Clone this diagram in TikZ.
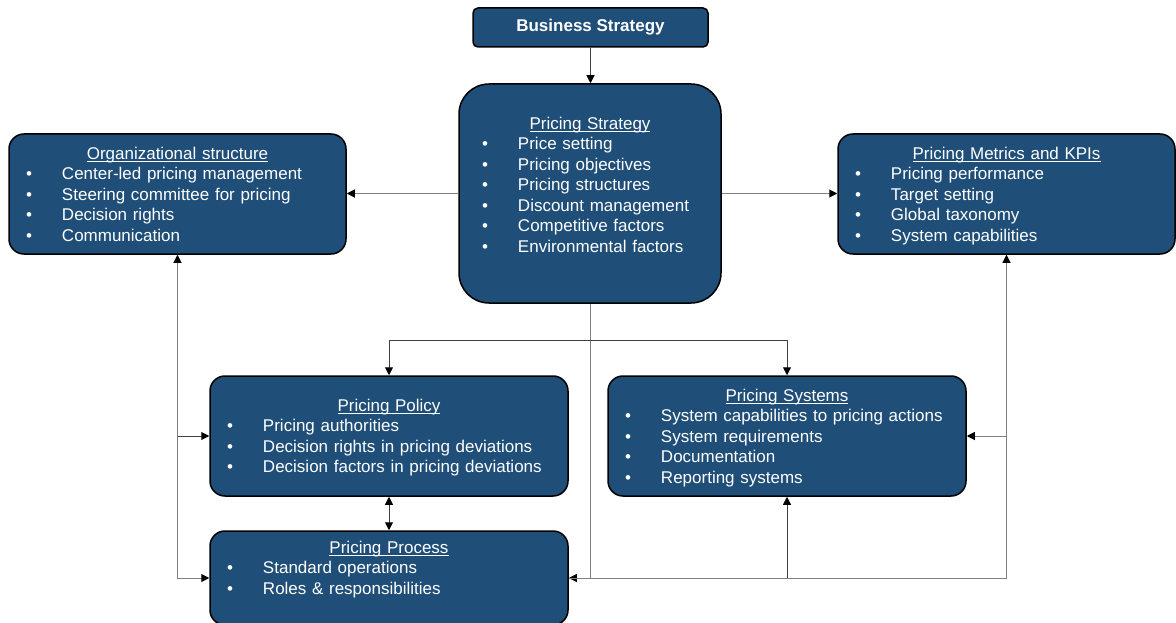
\documentclass[tikz,border=0pt]{standalone}
\usepackage{fontspec}
\setmainfont{Liberation Sans}
\usepackage{tikz}
\usetikzlibrary{arrows.meta,positioning,calc}
\definecolor{boxblue}{RGB}{31,78,121}
\newsavebox{\ttlbox}
\newcommand{\lstrut}{\rule[-3.6pt]{0pt}{19.4pt}}
\newcommand{\itm}{\lstrut\makebox[36pt][l]{\textbullet}}
\newcommand{\ttl}[1]{\sbox{\ttlbox}{#1}\makebox[\linewidth]{\lstrut\rlap{\rule[-2.6pt]{\wd\ttlbox}{0.9pt}}\usebox{\ttlbox}}}

\begin{document}
\begin{tikzpicture}[x=1pt,y=-1pt,>={Triangle[length=8pt,width=8pt,color=black]}]
    \tikzstyle{box}=[draw=black,line width=1.5pt,fill=boxblue,text=white,rectangle,rounded corners=15pt,align=left,inner xsep=17pt,font=\fontsize{17}{20.5}\selectfont]
    \tikzstyle{conn}=[draw=black!75,line width=1pt]
    \tikzstyle{connl}=[draw=black!50,line width=1pt]

    \useasboundingbox (0,0) rectangle (1176,623);

    \node[box,rounded corners=5pt,align=center,minimum width=235pt,minimum height=39pt] at (590.5,27.5) (bs) {\bfseries Business Strategy};
    \node[box,rounded corners=30pt,inner xsep=23pt,minimum width=262pt,minimum height=219pt,text width=216pt] at (590,193.5) (ps) {\ttl{Pricing Strategy}\\
      \itm Price setting\\ \itm Pricing objectives\\ \itm Pricing structures\\
      \itm Discount management\\ \itm Competitive factors\\ \itm Environmental factors\\[-3pt] \lstrut};
    \node[box,minimum width=337pt,minimum height=120pt,text width=303pt] at (177.5,194) (org) {\ttl{Organizational structure}\\
      \itm Center-led pricing management\\ \itm Steering committee for pricing\\
      \itm Decision rights\\ \itm Communication};
    \node[box,minimum width=337pt,minimum height=120pt,text width=303pt] at (1006.5,194) (kpi) {\ttl{Pricing Metrics and KPIs}\\
      \itm Pricing performance\\ \itm Target setting\\
      \itm Global taxonomy\\ \itm System capabilities};
    \node[box,minimum width=358pt,minimum height=120pt,text width=324pt] at (389,436) (pol) {\ttl{Pricing Policy}\\
      \itm Pricing authorities\\ \itm Decision rights in pricing deviations\\
      \itm Decision factors in pricing deviations};
    \node[box,minimum width=358pt,minimum height=120pt,text width=324pt] at (787,436) (sys) {\ttl{Pricing Systems}\\
      \itm System capabilities to pricing actions\\ \itm System requirements\\
      \itm Documentation\\ \itm Reporting systems};
    \node[box,minimum width=358pt,minimum height=94pt,text width=324pt] at (389,578) (proc) {\ttl{Pricing Process}\\
      \itm Standard operations\\ \itm Roles \& responsibilities\\ \lstrut};

    \coordinate (fork) at (590,340);

    \draw[conn,->] (bs) -- (bs |- ps.north);
    \draw[connl,->] (ps.west) -- (ps.west -| org.east);
    \draw[connl,->] (ps.east) -- (ps.east -| kpi.west);
    \draw[connl,->] (ps.south) |- (proc.east);
    \draw[conn,->] (fork) -| (pol.north);
    \draw[conn,->] (fork) -| (sys.north);
    \draw[conn,<->] (pol.south) -- (proc.north);
    % left bus
    \draw[connl,<->] (proc.west) -| (org.south);
    \draw[conn,->] (org.south |- pol.west) -- (pol.west);
    % right bus
    \draw[connl,->] (proc.east) -| (kpi.south);
    \draw[conn,->] (sys.south |- proc.east) -- (sys.south);
    \draw[connl,->] (kpi.south |- sys.east) -- (sys.east);
  \end{tikzpicture}
\end{document}
